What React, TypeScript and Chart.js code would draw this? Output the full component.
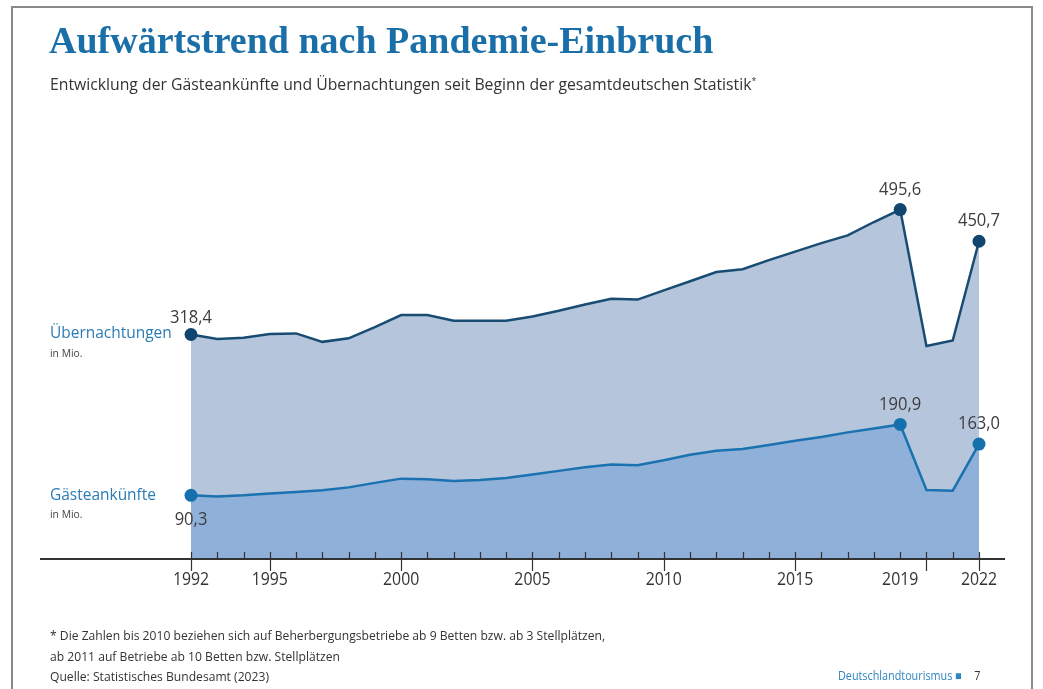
import React, { useEffect, useRef } from "react";
import { Chart, registerables } from "chart.js";

Chart.register(...registerables);

const years = [
  "1992", "1993", "1994", "1995", "1996", "1997", "1998", "1999", "2000", "2001",
  "2002", "2003", "2004", "2005", "2006", "2007", "2008", "2009", "2010", "2011",
  "2012", "2013", "2014", "2015", "2016", "2017", "2018", "2019", "2020", "2021", "2022",
];

const uebernachtungen = [
  318.4, 312, 314, 319, 320, 308, 313, 329, 346, 346,
  338, 338, 338, 344, 352, 361, 369, 368, 381, 394,
  407, 411, 424, 436, 448, 459, 478, 495.6, 302, 310, 450.7,
];

const gaesteankuenfte = [
  90.3, 88.5, 90.3, 93, 95, 97.4, 101.6, 108, 114, 113,
  110.6, 112, 115, 120, 125, 130, 134, 133, 140, 148,
  153.5, 156, 161.6, 167.7, 173, 179.6, 185, 190.9, 97.8, 96.9, 163.0,
];

const labelledIndices = [0, 27, 30];
const tickLabelYears = ["1992", "1995", "2000", "2005", "2010", "2015", "2019", "2022"];
const majorTickYears = ["1992", "1995", "2000", "2005", "2010", "2015", "2020", "2022"];

const SANS = "'Open Sans', 'Noto Sans', sans-serif";

const fmt = (v: number) => v.toFixed(1).replace(".", ",");

function narrowText(ctx: any, text: string, x: number, y: number, sx: number) {
  ctx.save();
  ctx.translate(x, y);
  ctx.scale(sx, 1);
  ctx.fillText(text, 0, 0);
  ctx.restore();
}

const overlayPlugin = {
  id: "overlay",
  afterDraw(chart: any) {
    const ctx = chart.ctx;
    const x = chart.scales.x;
    const y = chart.scales.y;
    const y0 = y.getPixelForValue(0);
    ctx.save();
    // axis line
    ctx.strokeStyle = "#333";
    ctx.lineWidth = 1.8;
    ctx.beginPath();
    ctx.moveTo(40, y0);
    ctx.lineTo(1005, y0);
    ctx.stroke();
    // ticks
    ctx.lineWidth = 1.2;
    years.forEach((yr, i) => {
      const px = Math.round(x.getPixelForValue(i)) + 0.5;
      const major = majorTickYears.includes(yr);
      ctx.beginPath();
      ctx.moveTo(px, y0 - 7);
      ctx.lineTo(px, major ? y0 + 12 : y0);
      ctx.stroke();
    });
    // tick labels
    ctx.fillStyle = "#333";
    ctx.font = `18px ${SANS}`;
    ctx.textAlign = "center";
    ctx.textBaseline = "middle";
    years.forEach((yr, i) => {
      if (tickLabelYears.includes(yr)) {
        narrowText(ctx, yr, x.getPixelForValue(i), y0 + 21, 0.88);
      }
    });
    // value labels
    ctx.fillStyle = "#3d3d3d";
    ctx.font = `18px ${SANS}`;
    labelledIndices.forEach((i) => {
      const px = x.getPixelForValue(i);
      const pu = y.getPixelForValue(uebernachtungen[i]);
      narrowText(ctx, fmt(uebernachtungen[i]), px, pu - (i === 0 ? 17 : 20), 0.92);
      const pg = y.getPixelForValue(gaesteankuenfte[i]);
      narrowText(ctx, fmt(gaesteankuenfte[i]), px, i === 0 ? pg + 25 : pg - 20, 0.92);
    });
    ctx.restore();
  },
};

function pointRadius(ctx: any) {
  return labelledIndices.includes(ctx.dataIndex) ? 6.5 : 0;
}

export default function App() {
  const ref = useRef<HTMLCanvasElement>(null);
  useEffect(() => {
    if (!ref.current) return;
    const chart = new Chart(ref.current, {
      type: "line",
      data: {
        labels: years,
        datasets: [
          {
            label: "Gästeankünfte",
            data: gaesteankuenfte,
            borderColor: "#1a72b0",
            backgroundColor: "#8fb0d8",
            borderWidth: 2.5,
            fill: "origin",
            tension: 0,
            pointRadius,
            pointHoverRadius: pointRadius,
            pointBackgroundColor: "#1670ad",
            pointBorderColor: "#1670ad",
            pointBorderWidth: 0,
            clip: false,
          },
          {
            label: "Übernachtungen",
            data: uebernachtungen,
            borderColor: "#184c73",
            backgroundColor: "#b5c5dc",
            borderWidth: 2.5,
            fill: "origin",
            tension: 0,
            pointRadius,
            pointHoverRadius: pointRadius,
            pointBackgroundColor: "#0f456e",
            pointBorderColor: "#0f456e",
            pointBorderWidth: 0,
            clip: false,
          },
        ],
      },
      options: {
        responsive: false,
        maintainAspectRatio: false,
        animation: false,
        events: [],
        layout: { padding: { left: 191, right: 64, top: 136, bottom: 130 } },
        plugins: { legend: { display: false }, tooltip: { enabled: false } },
        scales: {
          x: { display: false, offset: false },
          y: { display: false, min: 0, max: 600 },
        },
      },
      plugins: [overlayPlugin],
    });
    return () => chart.destroy();
  }, []);

  const abs = (style: React.CSSProperties, sx = 1): React.CSSProperties => ({
    position: "absolute",
    whiteSpace: "nowrap",
    margin: 0,
    transform: sx !== 1 ? `scaleX(${sx})` : undefined,
    transformOrigin: "left center",
    ...style,
  });

  return (
    <div
      style={{
        position: "absolute",
        left: 0,
        top: 0,
        width: 1043,
        height: 689,
        background: "#fff",
        overflow: "hidden",
        fontFamily: SANS,
      }}
    >
      <div
        style={abs({
          left: 11,
          top: 6,
          width: 1018,
          height: 700,
          borderLeft: "2px solid #8a8a8a",
          borderTop: "2px solid #8a8a8a",
          borderRight: "2px solid #8a8a8a",
        })}
      />
      <canvas ref={ref} width={1043} height={689} style={abs({ left: 0, top: 0 })} />
      <div
        style={abs({
          left: 49,
          top: 18,
          fontFamily: "'Liberation Serif', serif",
          fontWeight: "bold",
          fontSize: 38,
          lineHeight: "44px",
          color: "#1a6fa9",
        })}
      >
        Aufwärtstrend nach Pandemie-Einbruch
      </div>
      <div style={abs({ left: 50, top: 70, fontSize: 16, lineHeight: "22px", color: "#333" }, 0.985)}>
        Entwicklung der Gästeankünfte und Übernachtungen seit Beginn der gesamtdeutschen Statistik
        <sup style={{ fontSize: 9 }}>*</sup>
      </div>
      <div style={abs({ left: 50, top: 320, fontSize: 17, lineHeight: "24px", color: "#2b7cb3" }, 0.91)}>
        Übernachtungen
      </div>
      <div style={abs({ left: 50, top: 345, fontSize: 11.5, lineHeight: "16px", color: "#444" }, 0.9)}>
        in Mio.
      </div>
      <div style={abs({ left: 50, top: 482, fontSize: 17, lineHeight: "24px", color: "#2b7cb3" }, 0.91)}>
        Gästeankünfte
      </div>
      <div style={abs({ left: 50, top: 506, fontSize: 11.5, lineHeight: "16px", color: "#444" }, 0.9)}>
        in Mio.
      </div>
      <div style={abs({ left: 50, top: 626, fontSize: 12.5, lineHeight: "20.5px", color: "#333" }, 0.97)}>
        * Die Zahlen bis 2010 beziehen sich auf Beherbergungsbetriebe ab 9 Betten bzw. ab 3 Stellplätzen,
        <br />
        ab 2011 auf Betriebe ab 10 Betten bzw. Stellplätzen
        <br />
        Quelle: Statistisches Bundesamt (2023)
      </div>
      <div style={abs({ left: 838, top: 667, fontSize: 12, lineHeight: "17px", color: "#2f86c0" }, 0.9)}>
        Deutschlandtourismus <span style={{ fontSize: 12 }}>■</span>
        <span style={{ color: "#333", marginLeft: 14 }}>7</span>
      </div>
    </div>
  );
}
